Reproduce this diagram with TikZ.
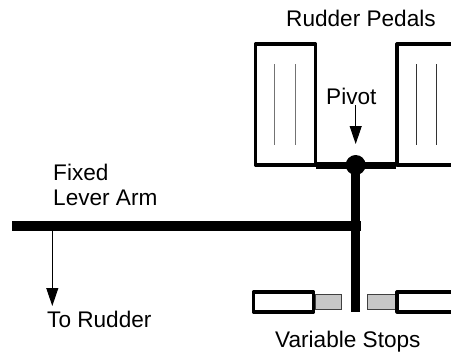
\documentclass[tikz,border=0pt]{standalone}
\usepackage{fontspec}
\setmainfont{Liberation Sans}
\usetikzlibrary{arrows.meta}
\tikzset{
  lbl/.style={inner sep=0pt,anchor=base west,font=\fontsize{22.6}{22.6}\selectfont},
  box/.style={draw=black,line width=3.2pt,line join=round,fill=white},
  stopbox/.style={draw=black!75,line width=1pt,fill=black!22},
  inner/.style={line width=1pt},
  thin arrow/.style={draw=black,line width=1pt,-{Triangle[length=18pt,width=12pt]}},
  bar/.style={line width=9pt,draw=black}
}
\begin{document}
\begin{tikzpicture}[x=1pt,y=-1pt]
\useasboundingbox (0,0) rectangle (451,354);
\clip (0,0) rectangle (451,354);
% pedals
\draw[box] (255.5,44) rectangle (315.5,165);
\draw[box] (397,44) rectangle (470,165);
\draw[inner,draw=black!55] (274.7,64) -- (274.7,145);
\draw[inner,draw=black!55] (295,64) -- (295,145);
\draw[inner,draw=black!80] (416,64) -- (416,145);
\draw[inner,draw=black!80] (436.7,64) -- (436.7,145);
% levers
\draw[line width=7pt] (316,165.5) -- (396,165.5);
\draw[bar] (355.7,165) -- (355.7,311.7);
\draw[line width=9.5pt] (12,226) -- (360.5,226);
\node[circle,fill=black,minimum size=20pt,inner sep=0pt] (pivotpt) at (355.7,165) {};
% stops
\draw[stopbox] (315,294.7) rectangle (341.5,309);
\draw[stopbox] (367.5,294.7) rectangle (395,309);
\draw[box] (253.5,292) rectangle (313.5,312);
\draw[box] (397,292) rectangle (470,312);
% labels
\node[lbl] (pedals) at (286,26) {Rudder Pedals};
\node[lbl] (pivot) at (326,104) {Pivot};
\node[lbl] (fixed) at (53,180.5) {Fixed};
\node[lbl] (lever) at (53,205) {Lever Arm};
\node[lbl] (rudder) at (47,327) {To Rudder};
\node[lbl] (stops) at (275,347) {Variable Stops};
% arrows
\coordinate (a) at (355.7,105);
\coordinate (b) at (355.7,144);
\draw[thin arrow] (a) -- (b);
\coordinate (c) at (52.3,231);
\coordinate (d) at (52.3,306);
\draw[thin arrow] (c) -- (d);
\end{tikzpicture}
\end{document}
